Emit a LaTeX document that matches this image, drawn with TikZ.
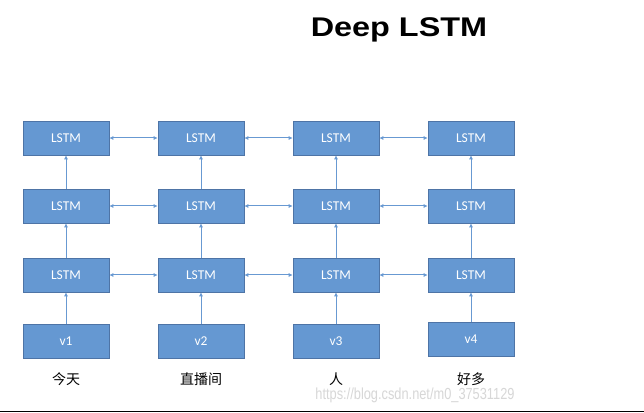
\documentclass[tikz,border=0pt]{standalone}
\usepackage{fontspec}
\setmainfont{Carlito}
\newfontfamily\titlefont{Liberation Sans}
\newfontfamily\cjk{Noto Sans CJK SC}
\usepackage{tikz}
\usetikzlibrary{arrows.meta}

\definecolor{cellblue}{RGB}{101,152,210}
\definecolor{cellline}{RGB}{78,116,166}
\definecolor{linkblue}{RGB}{104,153,210}
\definecolor{markgray}{RGB}{215,215,215}
\definecolor{baseline}{RGB}{96,110,134}

\tikzset{
  cell/.style={draw=cellline, line width=0.6pt, fill=cellblue, minimum width=86pt,
    minimum height=34pt, inner sep=0pt, text=white, font=\fontsize{13.5}{15}\selectfont},
  link/.style={draw=linkblue, line width=1pt, -{Latex[length=4pt,width=4pt]}},
  twolink/.style={link, {Latex[length=4pt,width=4pt]}-{Latex[length=4pt,width=4pt]}},
  word/.style={font=\cjk\fontsize{14}{16}\selectfont}
}

\begin{document}
\begin{tikzpicture}[x=1pt,y=1pt]
            \useasboundingbox (0,0) rectangle (644,412);
            \fill[white] (0,0) rectangle (644,412);
            % Title
            \node[font=\titlefont\bfseries\fontsize{27}{30}\selectfont, xscale=1.2] (title) at (399,382) {Deep LSTM};

            % Input vectors and words
            \node[cell] (v1) at (66,71) {v1};
            \node[cell] (v2) at (201,71) {v2};
            \node[cell] (v3) at (336,71) {v3};
            \node[cell] (v4) at (471,72.5) {v4};
            \node[word] (w1) at (66,33) {今天};
            \node[word] (w2) at (201,33) {直播间};
            \node[word] (w3) at (336,33) {人};
            \node[word] (w4) at (471,33) {好多};

            % Three stacked LSTM layers
            \foreach \c/\x in {1/66,2/201,3/336,4/471} {
              \node[cell] (a\c) at (\x,137) {LSTM};
              \node[cell] (b\c) at (\x,206) {LSTM};
              \node[cell] (c\c) at (\x,274) {LSTM};
              \draw[link] (v\c) -- (a\c);
              \draw[link] (a\c) -- (b\c);
              \draw[link] (b\c) -- (c\c);
            }

            % Links along each layer
            \foreach \r in {a,b,c} {
              \draw[twolink] (\r1) -- (\r2);
              \draw[twolink] (\r2) -- (\r3);
              \draw[twolink] (\r3) -- (\r4);
            }

            % Watermark and rule at the foot
            \node[text=markgray, font=\titlefont\fontsize{16}{18}\selectfont, xscale=0.8] (mark) at (415,17) {https://blog.csdn.net/m0\_37531129};
            \draw[baseline, line width=0.9pt] (0,0.6) -- (644,0.6);
\end{tikzpicture}
\end{document}
